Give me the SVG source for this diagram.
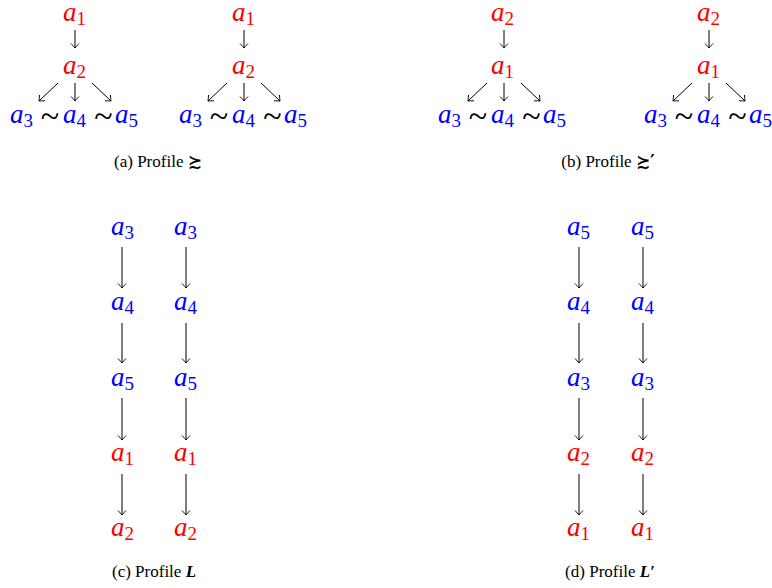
<svg xmlns="http://www.w3.org/2000/svg" width="772" height="588" viewBox="0 0 772 588">
<style>
.m{font-family:"Liberation Serif","Times New Roman",serif;font-style:italic;font-size:27px}
.r{fill:#ff0000}
.b{fill:#0000ff}
.s{font-style:normal;font-size:19px}
.t{font-family:"Liberation Serif","Times New Roman",serif;font-size:34px;fill:#000;text-anchor:middle}
.cap{font-family:"Liberation Serif","Times New Roman",serif;font-size:17px;fill:#000;text-anchor:middle}
.sym{font-family:"DejaVu Sans","DejaVu Serif",sans-serif;font-weight:bold}
.e line{stroke:#000;stroke-width:1;marker-end:url(#ah)}
</style>
<defs>
<marker id="ah" markerUnits="userSpaceOnUse" markerWidth="12" markerHeight="12" viewBox="-6 -6 12 12" refX="0" refY="0" orient="auto">
<path d="M-4.5,-4 Q-1.5,-1.2 0,0 Q-1.5,1.2 -4.5,4" fill="none" stroke="#000" stroke-width="0.9"/>
</marker>
</defs>
<rect width="772" height="588" fill="#fff"/>

<!-- Panel (a) left -->
<g id="a-left">
<text id="aL-top" class="m r" x="63" y="21">a<tspan class="s" dy="4">1</tspan></text>
<text id="aL-mid" class="m r" x="63" y="74">a<tspan class="s" dy="4">2</tspan></text>
<text id="aL-bot" class="m b" y="123"><tspan x="10">a</tspan><tspan class="s" dy="4">3</tspan><tspan x="63" dy="-4">a</tspan><tspan class="s" dy="4">4</tspan><tspan x="115" dy="-4">a</tspan><tspan class="s" dy="4">5</tspan></text>
<text class="t" x="50" y="127">~</text><text class="t" x="103.5" y="127">~</text>
</g>
<g id="a-right">
<text id="aR-top" class="m r" x="232" y="21">a<tspan class="s" dy="4">1</tspan></text>
<text id="aR-mid" class="m r" x="232" y="74">a<tspan class="s" dy="4">2</tspan></text>
<text id="aR-bot" class="m b" y="123"><tspan x="179">a</tspan><tspan class="s" dy="4">3</tspan><tspan x="232" dy="-4">a</tspan><tspan class="s" dy="4">4</tspan><tspan x="284" dy="-4">a</tspan><tspan class="s" dy="4">5</tspan></text>
<text class="t" x="219" y="127">~</text><text class="t" x="272.5" y="127">~</text>
</g>

<!-- Panel (b) -->
<g id="b-left">
<text id="bL-top" class="m r" x="491" y="21">a<tspan class="s" dy="4">2</tspan></text>
<text id="bL-mid" class="m r" x="491" y="74">a<tspan class="s" dy="4">1</tspan></text>
<text id="bL-bot" class="m b" y="123"><tspan x="438">a</tspan><tspan class="s" dy="4">3</tspan><tspan x="491" dy="-4">a</tspan><tspan class="s" dy="4">4</tspan><tspan x="543" dy="-4">a</tspan><tspan class="s" dy="4">5</tspan></text>
<text class="t" x="478" y="127">~</text><text class="t" x="531.5" y="127">~</text>
</g>
<g id="b-right">
<text id="bR-top" class="m r" x="697" y="21">a<tspan class="s" dy="4">2</tspan></text>
<text id="bR-mid" class="m r" x="697" y="74">a<tspan class="s" dy="4">1</tspan></text>
<text id="bR-bot" class="m b" y="123"><tspan x="644">a</tspan><tspan class="s" dy="4">3</tspan><tspan x="697" dy="-4">a</tspan><tspan class="s" dy="4">4</tspan><tspan x="749" dy="-4">a</tspan><tspan class="s" dy="4">5</tspan></text>
<text class="t" x="684" y="127">~</text><text class="t" x="737.5" y="127">~</text>
</g>

<!-- Panel (c) -->
<g id="c-col1">
<text class="m b" x="111" y="235">a<tspan class="s" dy="4">3</tspan></text>
<text class="m b" x="111" y="310">a<tspan class="s" dy="4">4</tspan></text>
<text class="m b" x="111" y="386">a<tspan class="s" dy="4">5</tspan></text>
<text class="m r" x="111" y="461">a<tspan class="s" dy="4">1</tspan></text>
<text class="m r" x="111" y="536">a<tspan class="s" dy="4">2</tspan></text>
</g>
<g id="c-col2">
<text class="m b" x="174" y="235">a<tspan class="s" dy="4">3</tspan></text>
<text class="m b" x="174" y="310">a<tspan class="s" dy="4">4</tspan></text>
<text class="m b" x="174" y="386">a<tspan class="s" dy="4">5</tspan></text>
<text class="m r" x="174" y="461">a<tspan class="s" dy="4">1</tspan></text>
<text class="m r" x="174" y="536">a<tspan class="s" dy="4">2</tspan></text>
</g>

<!-- Panel (d) -->
<g id="d-col1">
<text class="m b" x="567" y="235">a<tspan class="s" dy="4">5</tspan></text>
<text class="m b" x="567" y="310">a<tspan class="s" dy="4">4</tspan></text>
<text class="m b" x="567" y="386">a<tspan class="s" dy="4">3</tspan></text>
<text class="m r" x="567" y="461">a<tspan class="s" dy="4">2</tspan></text>
<text class="m r" x="567" y="536">a<tspan class="s" dy="4">1</tspan></text>
</g>
<g id="d-col2">
<text class="m b" x="631" y="235">a<tspan class="s" dy="4">5</tspan></text>
<text class="m b" x="631" y="310">a<tspan class="s" dy="4">4</tspan></text>
<text class="m b" x="631" y="386">a<tspan class="s" dy="4">3</tspan></text>
<text class="m r" x="631" y="461">a<tspan class="s" dy="4">2</tspan></text>
<text class="m r" x="631" y="536">a<tspan class="s" dy="4">1</tspan></text>
</g>

<!-- Connectors -->
<g id="edges" class="e">
<line x1="75" y1="30" x2="75" y2="48"/>
<line x1="58" y1="83" x2="39" y2="101"/><line x1="75" y1="83" x2="75" y2="101"/><line x1="92" y1="83" x2="111" y2="101"/>
<line x1="244" y1="30" x2="244" y2="48"/>
<line x1="227" y1="83" x2="208" y2="101"/><line x1="244" y1="83" x2="244" y2="101"/><line x1="261" y1="83" x2="280" y2="101"/>
<line x1="504" y1="30" x2="504" y2="48"/>
<line x1="487" y1="83" x2="468" y2="101"/><line x1="504" y1="83" x2="504" y2="101"/><line x1="521" y1="83" x2="540" y2="101"/>
<line x1="709" y1="30" x2="709" y2="48"/>
<line x1="692" y1="83" x2="673" y2="101"/><line x1="709" y1="83" x2="709" y2="101"/><line x1="726" y1="83" x2="745" y2="101"/>
<line x1="122" y1="247" x2="122" y2="288"/><line x1="122" y1="323" x2="122" y2="363"/><line x1="122" y1="398" x2="122" y2="440"/><line x1="122" y1="474" x2="122" y2="515"/>
<line x1="186" y1="247" x2="186" y2="288"/><line x1="186" y1="323" x2="186" y2="363"/><line x1="186" y1="398" x2="186" y2="440"/><line x1="186" y1="474" x2="186" y2="515"/>
<line x1="579" y1="247" x2="579" y2="288"/><line x1="579" y1="323" x2="579" y2="363"/><line x1="579" y1="398" x2="579" y2="440"/><line x1="579" y1="474" x2="579" y2="515"/>
<line x1="643" y1="247" x2="643" y2="288"/><line x1="643" y1="323" x2="643" y2="363"/><line x1="643" y1="398" x2="643" y2="440"/><line x1="643" y1="474" x2="643" y2="515"/>
</g>

<!-- Captions -->
<g id="captions">
<text class="cap" x="158" y="167">(a) Profile <tspan class="sym">≿</tspan></text>
<text class="cap" x="608" y="167">(b) Profile <tspan class="sym">≿′</tspan></text>
<text class="cap" x="154" y="577">(c) Profile <tspan font-weight="bold" font-style="italic">L</tspan></text>
<text class="cap" x="610" y="577">(d) Profile <tspan font-weight="bold" font-style="italic">L′</tspan></text>
</g>
</svg>
